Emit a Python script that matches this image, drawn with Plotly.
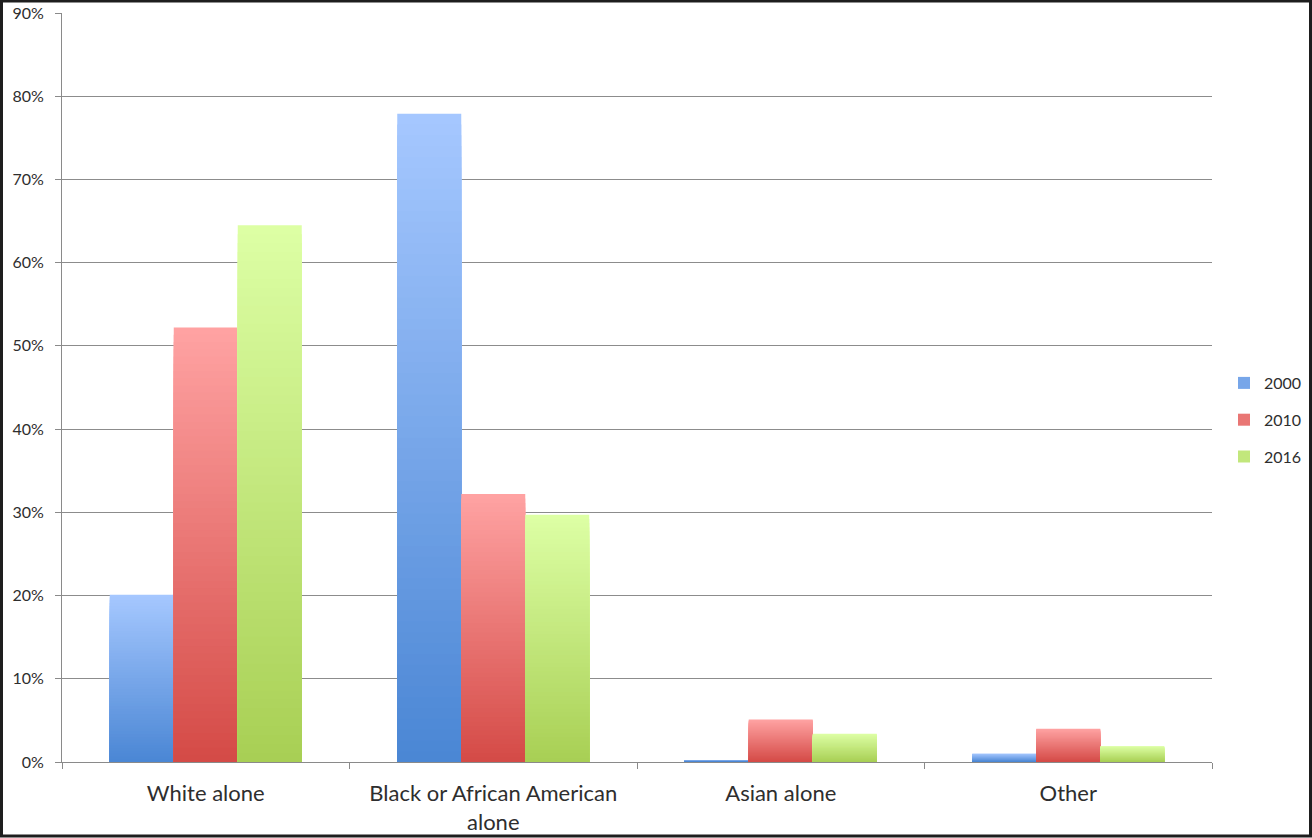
import plotly.graph_objects as go

# Population share by race, three census years
categories = ["White alone", "Black or African American<br>alone", "Asian alone", "Other"]
years = ["2000", "2010", "2016"]
share_2000 = [20.1, 77.9, 0.25, 1.0]
share_2010 = [52.2, 32.2, 5.1, 4.0]
share_2016 = [64.5, 29.7, 3.4, 1.9]
y_ticks = [0, 10, 20, 30, 40, 50, 60, 70, 80, 90]

series = [share_2000, share_2010, share_2016]
# (top colour, bottom colour) of the vertical gradient on each series
gradients = [
    ((166, 200, 255), (74, 134, 212)),
    ((255, 163, 163), (212, 74, 70)),
    ((221, 255, 165), (168, 207, 84)),
]

W, H = 1312, 838
ML, MR, MT, MB = 62, 100, 13, 76
PW, PH = W - ML - MR, H - MT - MB

BAR_W = 0.2226
OFFSETS = [-1.5 * BAR_W, -0.5 * BAR_W, 0.5 * BAR_W]
LAYERS = 60


def lerp(c_top, c_bot, h):
    r, g, b = (round(cb + (ct - cb) * h) for ct, cb in zip(c_top, c_bot))
    return f"rgb({r},{g},{b})"


fig = go.Figure()
for s, (vals, year, (top, bot)) in enumerate(zip(series, years, gradients)):
    # stack of shrinking bars, each one darker, gives a top-to-bottom gradient
    for k in range(LAYERS, 0, -1):
        frac = k / LAYERS
        h = (k - 0.5) / LAYERS
        fig.add_trace(go.Bar(
            x=categories,
            y=[v * frac for v in vals],
            name=year,
            legendgroup=year,
            showlegend=(k == LAYERS // 2),
            width=BAR_W,
            offset=OFFSETS[s],
            marker=dict(color=lerp(top, bot, h), line=dict(width=0)),
            hoverinfo="skip" if k != LAYERS else None,
            customdata=vals,
            hovertemplate="%{x}<br>" + year + ": %{customdata}%<extra></extra>",
        ))


def px_to_paper_x(px):
    return (px - ML) / PW


def px_to_paper_y(py):
    return (H - MB - py) / PH


fig.update_layout(
    width=W,
    height=H,
    margin=dict(l=ML, r=MR, t=MT, b=MB, autoexpand=False),
    barmode="overlay",
    paper_bgcolor="white",
    plot_bgcolor="white",
    font=dict(family="Lato, 'Open Sans', sans-serif", size=17, color="#2e2e2e"),
    showlegend=True,
    legend=dict(
        xref="container",
        yref="container",
        x=1224 / W,
        y=(H - 420) / H,
        xanchor="left",
        yanchor="middle",
        traceorder="grouped",
        tracegroupgap=13,
        font=dict(size=16, color="#2e2e2e"),
        itemwidth=30,
        bgcolor="rgba(0,0,0,0)",
    ),
    xaxis=dict(
        type="category",
        showgrid=False,
        showline=True,
        linecolor="#8a8a8a",
        linewidth=1,
        ticks="outside",
        tickson="boundaries",
        ticklen=6,
        tickcolor="#8a8a8a",
        tickfont=dict(size=22),
        ticklabelstandoff=12,
        automargin=False,
        fixedrange=True,
    ),
    yaxis=dict(
        range=[0, 90],
        tickvals=y_ticks,
        ticktext=[f"{t}%" for t in y_ticks],
        showgrid=True,
        gridcolor="#8c8c8c",
        gridwidth=1,
        showline=True,
        linecolor="#8a8a8a",
        linewidth=1,
        ticks="outside",
        ticklen=6,
        tickcolor="#8a8a8a",
        tickfont=dict(size=16),
        ticklabelstandoff=8,
        zeroline=False,
        automargin=False,
        fixedrange=True,
    ),
    shapes=[
        dict(
            type="rect",
            xref="paper",
            yref="paper",
            x0=px_to_paper_x(1.5),
            x1=px_to_paper_x(W - 1.5),
            y0=px_to_paper_y(H - 2),
            y1=px_to_paper_y(1),
            line=dict(color="#1e1e1e", width=3),
            fillcolor="rgba(0,0,0,0)",
            layer="above",
        )
    ],
)

fig.write_html("out.html")
